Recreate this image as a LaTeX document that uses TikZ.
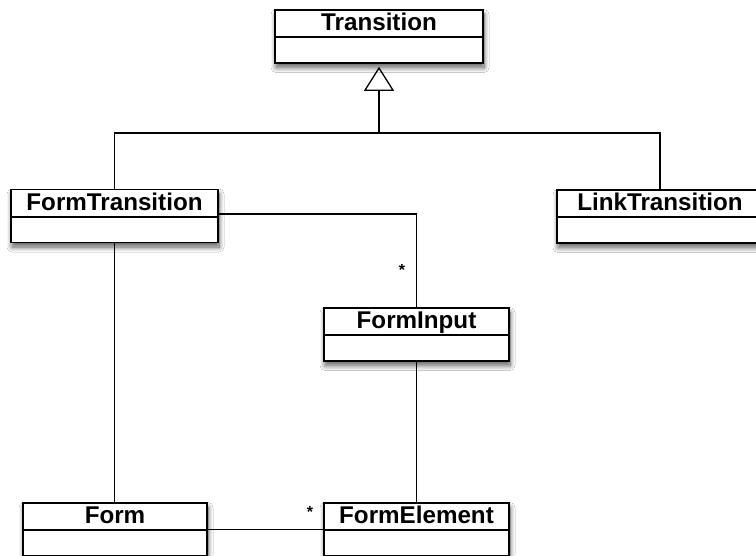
\documentclass[tikz,border=0pt]{standalone}
\usepackage{fontspec}
\setmainfont{Liberation Sans}
\usetikzlibrary{arrows.meta,shadows.blur}

\tikzset{
  classline/.style={line width=1.6pt, draw=black},
  classbox/.style={classline, fill=white, rectangle, minimum height=53pt,
    inner sep=0pt,
    blur shadow={shadow xshift=1pt, shadow yshift=-4.5pt,
      shadow blur radius=5pt, shadow blur steps=12, shadow opacity=65}},
  classname/.style={anchor=base, inner sep=0pt,
    font=\fontsize{24.2}{28}\selectfont\bfseries},
  assoc/.style={line width=1.4pt, draw=black},
  mult/.style={inner sep=0pt, font=\fontsize{16}{18}\selectfont\bfseries},
  inherit/.style={assoc, -{Triangle[open, length=24pt, width=30pt, line width=1.3pt]},
    shorten >=3pt},
}

% A UML class: id, centre, width, name
\newcommand{\umlclass}[4]{%
  \node[classbox, minimum width=#3] (#1) at #2 {};
  \draw[classline] ([yshift=-28pt]#1.north west) -- ([yshift=-28pt]#1.north east);
  \node[classname] (#1-name) at ([yshift=-21.5pt]#1.north) {#4};
}

\begin{document}
\begin{tikzpicture}[x=1pt, y=-1pt]
  \fill[white] (0,0) rectangle (756,555);
  \useasboundingbox (0,0) rectangle (756,555);

  \coordinate (hub) at (379,133);
  \coordinate (ftcorner) at (416.5,214);

  \umlclass{transition}{(379,36.5)}{208pt}{Transition}
  \umlclass{formtransition}{(114.5,216)}{207pt}{FormTransition}
  \umlclass{linktransition}{(660,216.5)}{206pt}{LinkTransition}
  \umlclass{forminput}{(416.5,334.5)}{185pt}{FormInput}
  \umlclass{form}{(115,529.5)}{184pt}{Form}
  \umlclass{formelement}{(416.5,529.5)}{185pt}{FormElement}

  % generalisation
  \draw[assoc] (formtransition.north) |- (hub) -| (linktransition.north);
  \draw[inherit] (hub) -- (transition.south);

  % associations
  \draw[assoc] (formtransition.east |- ftcorner) -- (ftcorner) -- (forminput.north);
  \node[mult] (m1) at (402,270) {*};
  \draw[assoc] (formtransition.south) -- (formtransition.south |- form.north);
  \draw[assoc] (forminput.south) -- (formelement.north);
  \draw[assoc] (form.east) -- (formelement.west);
  \node[mult] (m2) at (310,512) {*};
\end{tikzpicture}
\end{document}
